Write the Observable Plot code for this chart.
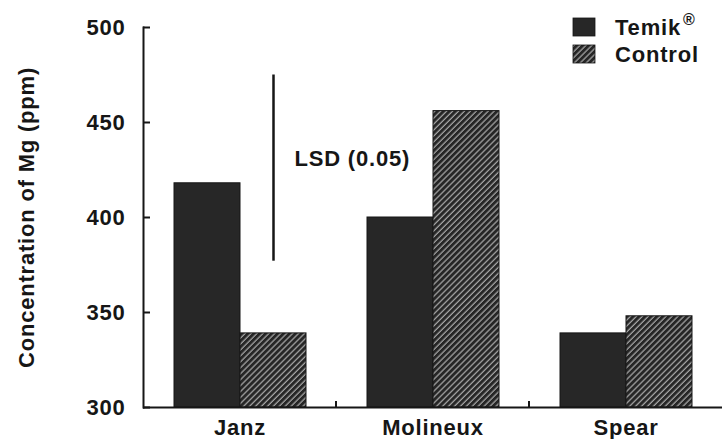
<!DOCTYPE html>
<html>
<head>
<meta charset="utf-8">
<script src="https://cdn.jsdelivr.net/npm/d3@7"></script>
<script src="https://cdn.jsdelivr.net/npm/@observablehq/plot@0.6"></script>
<style>
  body { margin: 0; background: #fff; }
  #chart { position: relative; width: 723px; height: 439px; }
  #legend { position: absolute; left: 0; top: 0; pointer-events: none; }
  #legend text { font-family: "Liberation Sans", Arial, sans-serif; font-weight: bold; font-size: 22px; letter-spacing: 0.8px; fill: #161616; }
</style>
</head>
<body>
<div id="chart"></div>
<script>
// Magnesium concentration by variety, Temik-treated vs. untreated control
const varieties = ["Janz", "Molineux", "Spear"];
const treatments = ["Temik", "Control"];
const temikMg = [418, 400, 339];
const controlMg = [339, 456, 348];
const lsdRange = [377, 475];          // least significant difference bar (P = 0.05)
const lsdLabel = "LSD (0.05)";
const yTicks = [300, 350, 400, 450, 500];
const yLabel = "Concentration of Mg (ppm)";

const rows = varieties.flatMap((variety, i) => [
  {variety, treatment: "Temik", mg: temikMg[i]},
  {variety, treatment: "Control", mg: controlMg[i]}
]);
const base = yTicks[0];
const lsd = [{variety: varieties[0], treatment: "Control", lo: lsdRange[0], hi: lsdRange[1], label: lsdLabel}];

const ink = "#161616";

const plot = Plot.plot({
  width: 723,
  height: 439,
  marginLeft: 142,
  marginRight: 0,
  marginTop: 27,
  marginBottom: 32,
  style: {
    fontFamily: "'Liberation Sans', Arial, sans-serif",
    fontSize: "22px",
    fontWeight: "bold",
    letterSpacing: "0.8px",
    color: ink,
    background: "#fff"
  },
  fx: {domain: varieties, padding: 0, label: null},
  x: {domain: treatments, paddingInner: 0, paddingOuter: 0.445, axis: null},
  y: {domain: [yTicks[0], yTicks[yTicks.length - 1]]},
  marks: [
    Plot.barY(rows.filter(d => d.treatment === "Temik"), {
      fx: "variety", x: "treatment", y1: base, y2: "mg",
      fill: "#272727", stroke: ink, strokeWidth: 1
    }),
    Plot.barY(rows.filter(d => d.treatment === "Control"), {
      fx: "variety", x: "treatment", y1: base, y2: "mg",
      fill: "url(#mg-hatch)", stroke: ink, strokeWidth: 1
    }),
    Plot.ruleY([base], {stroke: ink, strokeWidth: 2}),
    Plot.frame({anchor: "left", facetAnchor: "left", stroke: ink, strokeWidth: 2}),
    Plot.axisY({
      ticks: yTicks, tickFormat: d => d, tickSize: -7, tickPadding: 25, strokeWidth: 2,
      label: yLabel, labelAnchor: "center", labelArrow: "none", labelOffset: 125
    }),
    Plot.axisFx({anchor: "bottom", tickSize: 0, tickPadding: 12, label: null}),
    Plot.ruleX(lsd, {fx: "variety", x: "treatment", y1: "lo", y2: "hi", stroke: ink, strokeWidth: 2.5}),
    Plot.text(lsd, {
      fx: "variety", x: "treatment", y: d => (d.lo + d.hi) / 2, text: "label",
      textAnchor: "start", dx: 21, dy: -9, fill: ink
    })
  ]
});

const svg = d3.select(plot);

// diagonal hatching for the control bars
const pattern = svg.insert("defs", ":first-child").append("pattern")
  .attr("id", "mg-hatch")
  .attr("patternUnits", "userSpaceOnUse")
  .attr("width", 4.2).attr("height", 4.2)
  .attr("patternTransform", "rotate(45)");
pattern.append("rect").attr("width", 4.2).attr("height", 4.2).attr("fill", "#262626");
pattern.append("line").attr("x1", 1).attr("x2", 1).attr("y1", 0).attr("y2", 4.2)
  .attr("stroke", "#c4c4c4").attr("stroke-width", 1);

// small upward ticks separating the variety groups on the x axis
const fx = plot.scale("fx");
const y = plot.scale("y");
const y0 = y.apply(base);
fx.domain.slice(0, -1).forEach(v => {
  const xb = fx.apply(v) + fx.bandwidth;
  svg.append("line").attr("x1", xb).attr("x2", xb).attr("y1", y0).attr("y2", y0 - 6)
    .attr("stroke", ink).attr("stroke-width", 2);
});

const chart = document.getElementById("chart");
chart.append(plot);

// legend in the upper right corner
const legend = d3.select(chart).append("svg").attr("id", "legend")
  .attr("width", 723).attr("height", 439);
const items = [
  {name: treatments[0], fill: "#272727", sup: "®"},
  {name: treatments[1], fill: "url(#mg-hatch)"}
];
items.forEach((it, i) => {
  const g = legend.append("g").attr("transform", `translate(573,${18 + i * 27})`);
  g.append("rect").attr("width", 22).attr("height", 18).attr("fill", it.fill).attr("stroke", ink).attr("stroke-width", 0.8);
  const t = g.append("text").attr("x", 42).attr("y", 17).text(it.name);
  if (it.sup) t.append("tspan").attr("dy", -10).attr("dx", 2).style("font-size", "16px").text(it.sup);
});
</script>
</body>
</html>
